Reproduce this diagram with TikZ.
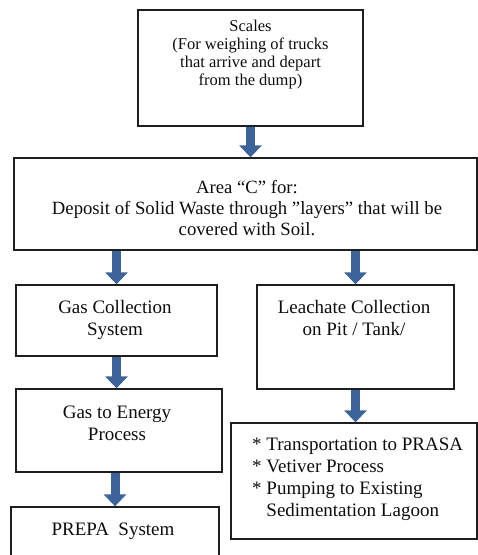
\documentclass[tikz,border=0pt]{standalone}
\usepackage{fontspec}
\setmainfont{Liberation Serif}[Ligatures=ResetAll]
\usetikzlibrary{arrows.meta}
\definecolor{arrowblue}{RGB}{60,100,155}
\definecolor{boxline}{RGB}{30,30,30}
\begin{document}
\begin{tikzpicture}[x=1bp,y=-1bp,
  box/.style={draw=boxline, line width=1.3bp, inner sep=0pt},
  txt/.style={align=center, inner sep=0pt, text=black!95, font=\fontsize{19bp}{22bp}\selectfont},
  flow/.style={draw=arrowblue, line width=9bp, -{Triangle[width=22bp,length=12bp]}}
]
\clip (0,0) rectangle (478,555);
% boxes
\node[box, minimum width=225bp, minimum height=116bp] (scales) at (250.5,68) {};
\node[box, minimum width=463bp, minimum height=92bp] (areac) at (245.5,204) {};
\node[box, minimum width=201bp, minimum height=71bp] (gascol) at (116.5,320.5) {};
\node[box, minimum width=206bp, minimum height=83bp] (energy) at (119,430.5) {};
\node[box, minimum width=208bp, minimum height=73bp] (prepa) at (115,543.5) {};
\node[box, minimum width=197bp, minimum height=104bp] (leach) at (355.5,337) {};
\node[box, minimum width=246bp, minimum height=116bp] (trans) at (354,481) {};
% texts
\node[txt, font=\fontsize{16.5bp}{18.3bp}\selectfont] (scalestxt) at (250.5,54.5)
  {Scales\\(For weighing of trucks\\that arrive and depart\\from the dump)};
\node[txt, font=\fontsize{18.7bp}{21bp}\selectfont] (areactxt) at (247,208)
  {Area “C” for:\\Deposit of Solid Waste through "layers" that will be\\covered with Soil.};
\node[txt] (gascoltxt) at (115,320) {Gas Collection\\System};
\node[txt] (energytxt) at (117,423) {Gas to Energy\\Process};
\node[txt] (prepatxt) at (113,531) {PREPA~~System};
\node[txt] (leachtxt) at (354,318) {Leachate Collection\\on Pit / Tank/};
\node[txt, align=left, anchor=west] (transtxt) at (252,479)
  {* Transportation to PRASA\\* Vetiver Process\\* Pumping to Existing\\\phantom{* }Sedimentation Lagoon};
% arrows
\draw[flow] (scales.south) -- (scales.south |- areac.north);
\draw[flow] (gascol.north |- areac.south) -- (gascol.north);
\draw[flow] (leach.north |- areac.south) -- (leach.north);
\draw[flow] (gascol.south) -- (gascol.south |- energy.north);
\draw[flow] (prepa.north |- energy.south) -- (prepa.north);
\draw[flow] (leach.south) -- (leach.south |- trans.north);
\end{tikzpicture}
\end{document}
